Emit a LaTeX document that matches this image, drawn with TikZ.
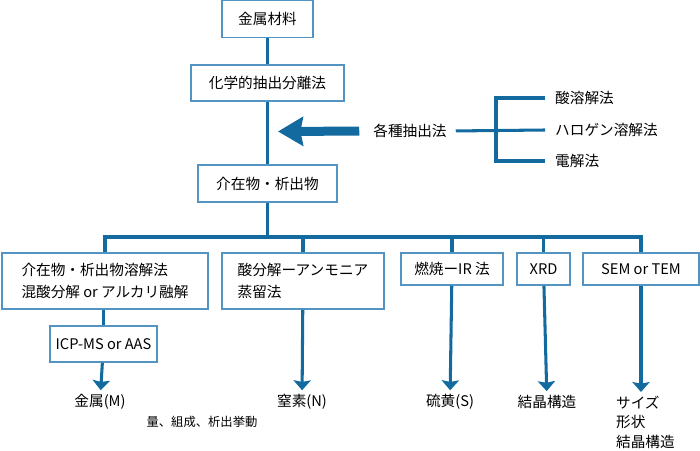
\documentclass[tikz,border=0pt]{standalone}
\usepackage{fontspec}
\setmainfont{Noto Sans CJK JP}
\usepackage{xcolor}
\usepackage{tikz}
\usetikzlibrary{arrows.meta}

\definecolor{lineblue}{RGB}{18,106,158}
\definecolor{boxblue}{RGB}{84,148,194}

\begin{document}
\begin{tikzpicture}[
				x=0.03cm, y=-0.03cm,
				font=\fontsize{12.5pt}{19pt}\selectfont,
				box/.style={
					rectangle,
					draw=boxblue,
					line width=1.3pt,
					fill=white,
					minimum height=0.96cm,
					align=center,
					inner sep=0pt
				},
				widebox/.style={
					box,
					minimum height=1.68cm,
					align=left
				},
				line/.style={
					draw=lineblue,
					line width=2.6pt
				},
				arrow/.style={
					line,
					-{Stealth[length=0.3cm,width=0.52cm,inset=0.05cm]}
				},
				bigarrow/.style={
					draw=lineblue,
					line width=0.27cm,
					-{Stealth[length=0.75cm,width=0.86cm,inset=0.08cm]}
				},
				kind/.style={
					anchor=west,
					inner xsep=0.3cm
				}
			]
			\useasboundingbox (0,0) rectangle (700,451);
			% Nodes
			\node[box, minimum width=2.73cm, minimum height=1.11cm] (material) at (267.5,19) {金属材料};
			\node[box, minimum width=4.59cm, minimum height=1.08cm] (chem) at (267.5,83) {化学的抽出分離法};
			\node[box, minimum width=4.17cm, minimum height=1.11cm] (inclusion) at (267.5,183.5) {介在物・析出物};
			
			\node (kinds) at (410,131) {各種抽出法};
			\node[kind] (acid) at (545,98) {酸溶解法};
			\node[kind] (halogen) at (545,130) {ハロゲン溶解法};
			\node[kind] (electro) at (545,161) {電解法};
			\coordinate (fork) at (496,130);
			\coordinate (tip) at (278,131.5);
			\coordinate (split) at (267.5,237);
			
			\node[widebox, minimum width=6.18cm] (dissolve) at (105,281) {介在物・析出物溶解法\\混酸分解 or アルカリ融解};
			\node[widebox, minimum width=4.86cm] (ammonia) at (303,281) {酸分解ーアンモニア\\蒸留法};
			\node[box, minimum width=3.06cm] (ir) at (452,269) {燃焼ーIR 法};
			\node[box, minimum width=1.59cm] (xrd) at (543.5,269) {XRD};
			\node[box, minimum width=3.48cm] (sem) at (641,269) {SEM or TEM};
			\node[box, minimum width=3.21cm, minimum height=1.08cm] (icp) at (103.5,344) {ICP-MS or AAS};
			
			\node (metal) at (100,402) {金属(M)};
			\node[font=\fontsize{10.5pt}{13pt}\selectfont] (amount) at (202,422) {量、組成、析出挙動};
			\node (nitrogen) at (302,402) {窒素(N)};
			\node (sulfur) at (450,402) {硫黄(S)};
			\node (crystal) at (547,402) {結晶構造};
			\node[anchor=north west, align=left, font=\fontsize{12.5pt}{16.5pt}\selectfont] (sizes) at (612,392) {サイズ\\形状\\結晶構造};
			
			% Connectors
			\draw[line] (material) -- (chem);
			\draw[line] (chem) -- (inclusion);
			\draw[line] (inclusion) -- (split);
			\foreach \n in {dissolve,ammonia,ir,xrd,sem}
				\draw[line] (split) -| (\n.north);
			\draw[bigarrow, shorten <=0.3cm] (kinds.west) -- (tip);
			\draw[line, shorten <=0.15cm] (kinds.east) -- (halogen.west);
			\draw[line] (acid.west) -| (fork) |- (electro.west);
			\draw[line] (dissolve.south -| icp.north) -- (icp.north);
			\draw[arrow] (icp) -- (metal);
			\draw[arrow] (ammonia) -- (nitrogen);
			\draw[arrow] (ir) -- (sulfur);
			\draw[arrow] (xrd) -- (crystal);
			\draw[arrow] (sem.south) -- (sem.south |- sizes.north);
		\end{tikzpicture}
\end{document}
